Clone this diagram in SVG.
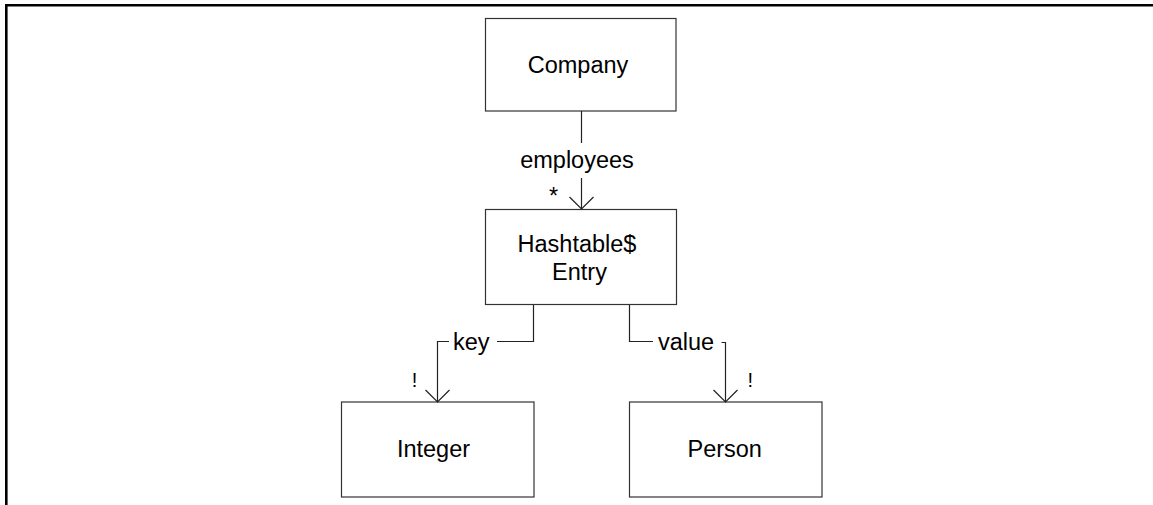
<svg xmlns="http://www.w3.org/2000/svg" width="1153" height="505" viewBox="0 0 1153 505">
  <style>
    .box { fill: #fff; stroke: #333; stroke-width: 1.2; }
    .edge { fill: none; stroke: #222; stroke-width: 1.2; }
    .label { font-family: "Liberation Sans", Arial, sans-serif; font-size: 23.5px; fill: #000; }
    .name { text-anchor: middle; }
    .mult { font-family: "Liberation Sans", Arial, sans-serif; font-size: 20px; fill: #000; }
  </style>
  <defs>
    <marker id="open-arrow" markerUnits="userSpaceOnUse" markerWidth="30" markerHeight="30" refX="0" refY="0" viewBox="-15 -15 30 30" orient="auto" overflow="visible">
      <path d="M-12,-12 L0,0 L-12,12" fill="none" stroke="#222" stroke-width="1.2"/>
    </marker>
  </defs>

  <!-- page frame -->
  <path d="M6.3 505 V5.2 H1153" fill="none" stroke="#000" stroke-width="2.6"/>

  <g id="company">
    <rect class="box" x="485.5" y="18.5" width="190.5" height="92.5"/>
    <text class="label name" x="578" y="73">Company</text>
  </g>

  <g id="hashtable-entry">
    <rect class="box" x="485.5" y="209.5" width="191" height="95"/>
    <text class="label name" x="577" y="252">Hashtable$</text>
    <text class="label name" x="579.5" y="280">Entry</text>
  </g>

  <g id="integer">
    <rect class="box" x="341.5" y="402" width="192.5" height="95"/>
    <text class="label name" x="433.5" y="457">Integer</text>
  </g>

  <g id="person">
    <rect class="box" x="629.5" y="402" width="192.5" height="95"/>
    <text class="label name" x="724.7" y="457">Person</text>
  </g>

  <g id="connectors">
    <!-- Company -> Hashtable$Entry : employees * -->
    <path class="edge" d="M581.5 111 V143"/>
    <path class="edge" d="M581.5 178 V209" marker-end="url(#open-arrow)"/>
    <text class="label name" x="577" y="168">employees</text>
    <text class="label" x="549" y="204">*</text>

    <!-- Hashtable$Entry -> Integer : key ! -->
    <path class="edge" d="M533.5 305 V341.5 H497"/>
    <path class="edge" d="M449 341.5 H437.5 V402" marker-end="url(#open-arrow)"/>
    <text class="label" x="453" y="350">key</text>
    <text class="mult" x="411.7" y="386.5">!</text>

    <!-- Hashtable$Entry -> Person : value ! -->
    <path class="edge" d="M629.5 305 V341.5 H653"/>
    <path class="edge" d="M721.5 342.5 H725.5 V402" marker-end="url(#open-arrow)"/>
    <text class="label" x="658" y="350">value</text>
    <text class="mult" x="747.5" y="386.5">!</text>
  </g>
</svg>
